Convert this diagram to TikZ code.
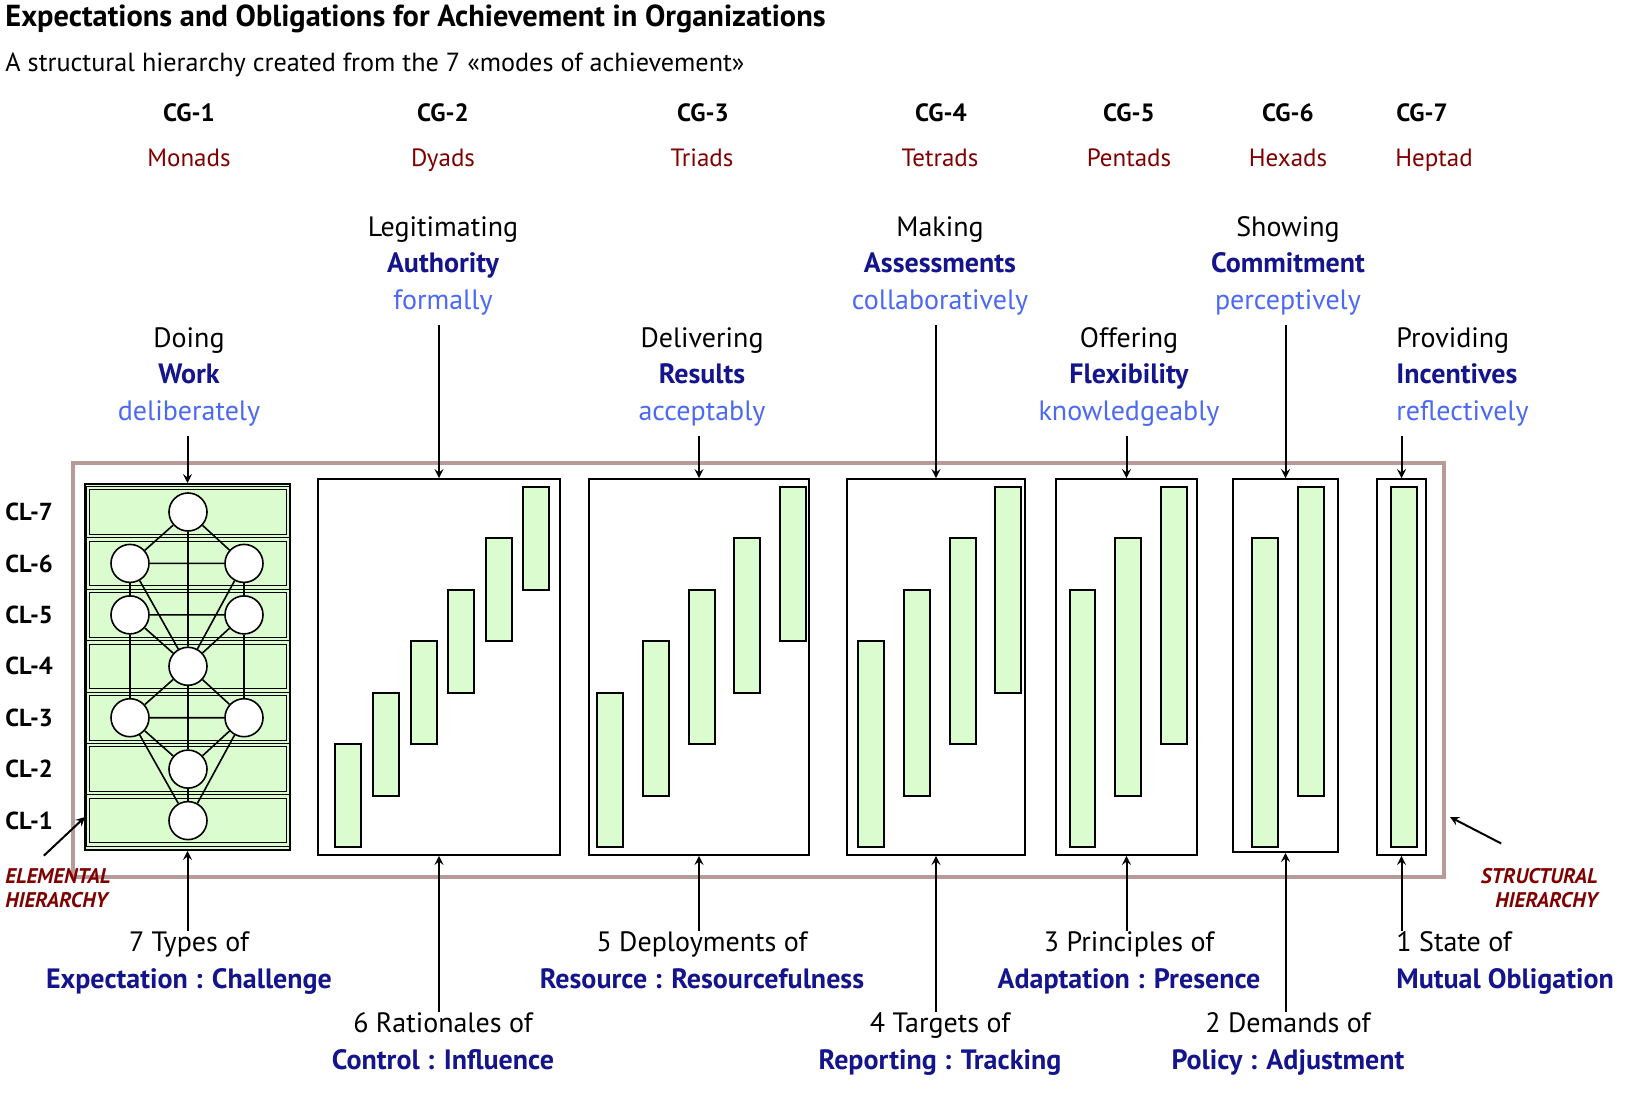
\documentclass[tikz,border=0pt]{standalone}
\usepackage{fontspec}
\setmainfont{PT Sans}
\definecolor{cgreen}{RGB}{218,252,206}
\definecolor{framebrown}{RGB}{184,154,152}
\definecolor{modered}{RGB}{128,0,0}
\definecolor{modenavy}{RGB}{20,20,140}
\definecolor{modesky}{RGB}{75,105,245}
\tikzset{
  grp/.style={draw,line width=0.8pt,inner sep=0pt},
  bar/.style={draw,line width=1pt,fill=cgreen},
  row/.style={draw,line width=0.5pt,double=cgreen,double distance=1.2pt,fill=cgreen},
  ball/.style={circle,draw,line width=0.8pt,fill=white,minimum size=19pt,inner sep=0pt},
  link/.style={line width=1pt,->},
  cglab/.style={anchor=base,font=\fontsize{12.5}{15}\selectfont\bfseries},
  kindlab/.style={anchor=base,text=modered,font=\fontsize{12.5}{15}\selectfont},
  cllab/.style={anchor=west,inner sep=0pt,font=\fontsize{12.3}{14}\selectfont\bfseries},
  modelab/.style={align=center,inner xsep=0pt,inner ysep=5pt,font=\fontsize{14}{18.2}\selectfont},
  outlab/.style={align=center,inner sep=0pt,font=\fontsize{14}{18.5}\selectfont},
  hierlab/.style={inner sep=0pt,text=modered,font=\fontsize{10.6}{12}\selectfont\bfseries\itshape},
}
\newcommand{\wk}[1]{{\bfseries\color{modenavy}#1}}
\newcommand{\hw}[1]{{\color{modesky}#1}}
\begin{document}
\begin{tikzpicture}[x=0.5pt,y=-0.5pt,>=stealth]
    \useasboundingbox (0,0) rectangle (1625,1117);
    % headings
    \node[anchor=base west,inner sep=0pt,font=\fontsize{15.2}{17}\selectfont\bfseries] (title) at (5,27)
        {Expectations and Obligations for Achievement in Organizations};
    \node[anchor=base west,inner sep=0pt,font=\fontsize{13.1}{16}\selectfont] (subtitle) at (5,72)
        {A structural hierarchy created from the 7 «modes of achievement»};
    \node[cglab] (cg1) at (189,122) {CG-1};
    \node[cglab] (cg2) at (443,122) {CG-2};
    \node[cglab] (cg3) at (703,122) {CG-3};
    \node[cglab] (cg4) at (941,122) {CG-4};
    \node[cglab] (cg5) at (1129,122) {CG-5};
    \node[cglab] (cg6) at (1288,122) {CG-6};
    \node[cglab] (cg7) at (1422,122) {CG-7};
    \node[kindlab] (k1) at (189,167) {Monads};
    \node[kindlab] (k2) at (443,167) {Dyads};
    \node[kindlab] (k3) at (702,167) {Triads};
    \node[kindlab] (k4) at (940,167) {Tetrads};
    \node[kindlab] (k5) at (1129,167) {Pentads};
    \node[kindlab] (k6) at (1288,167) {Hexads};
    \node[kindlab] (k7) at (1434,167) {Heptad};
    % the structural frame
    \draw[line width=2pt,framebrown] (73,463) rectangle (1444,877);
    % groups
    \node[grp,fill=cgreen,minimum width=102.5pt,minimum height=183pt] (g1) at (187.5,667) {};
    \node[grp,minimum width=121pt,minimum height=188pt] (g2) at (439,667) {};
    \node[grp,minimum width=110pt,minimum height=188pt] (g3) at (699,667) {};
    \node[grp,minimum width=89pt,minimum height=188pt] (g4) at (936,667) {};
    \node[grp,minimum width=70.5pt,minimum height=188pt] (g5) at (1126.5,667) {};
    \node[grp,minimum width=52.5pt,minimum height=186.5pt] (g6) at (1285.5,665.5) {};
    \node[grp,minimum width=24.5pt,minimum height=188pt] (g7) at (1401.5,667) {};
    % CG-1 levels
    \draw[row] (88,488) rectangle (288,536);
    \draw[row] (88,539.4) rectangle (288,587.4);
    \draw[row] (88,590.9) rectangle (288,638.9);
    \draw[row] (88,642.3) rectangle (288,690.3);
    \draw[row] (88,693.7) rectangle (288,741.7);
    \draw[row] (88,745.1) rectangle (288,793.1);
    \draw[row] (88,796.6) rectangle (288,844.6);
    \node[ball] (n1) at (188,512) {};
    \node[ball] (n2) at (130,563.4) {};
    \node[ball] (n3) at (244,563.4) {};
    \node[ball] (n4) at (130,614.9) {};
    \node[ball] (n5) at (244,614.9) {};
    \node[ball] (n6) at (188,666.3) {};
    \node[ball] (n7) at (130,717.7) {};
    \node[ball] (n8) at (244,717.7) {};
    \node[ball] (n9) at (188,769.1) {};
    \node[ball] (n10) at (188,820.6) {};
    \draw[line width=0.8pt] (n1) -- (n2) (n1) -- (n3) (n1) -- (n6)
        (n2) -- (n3) (n2) -- (n4) (n2) -- (n6) (n3) -- (n5) (n3) -- (n6)
        (n4) -- (n5) (n4) -- (n6) (n4) -- (n7) (n5) -- (n6) (n5) -- (n8)
        (n6) -- (n7) (n6) -- (n8) (n6) -- (n9)
        (n7) -- (n8) (n7) -- (n9) (n7) -- (n10) (n8) -- (n9) (n8) -- (n10)
        (n9) -- (n10);
    % CG-2 .. CG-7 spans
    \draw[bar] (335,744) rectangle (360.5,847);
    \draw[bar] (373,693) rectangle (398.5,795.6);
    \draw[bar] (411,641.3) rectangle (436.5,744);
    \draw[bar] (448,589.9) rectangle (473.5,693);
    \draw[bar] (486,538.4) rectangle (511.5,641.3);
    \draw[bar] (523,487) rectangle (548.5,589.9);
    \draw[bar] (597,693) rectangle (622.5,847);
    \draw[bar] (643,641.3) rectangle (668.5,795.6);
    \draw[bar] (689,589.9) rectangle (714.5,744);
    \draw[bar] (734,538.4) rectangle (759.5,693);
    \draw[bar] (780,487) rectangle (805.5,641.3);
    \draw[bar] (858,641.3) rectangle (883.5,847);
    \draw[bar] (904,589.9) rectangle (929.5,795.6);
    \draw[bar] (950,538.4) rectangle (975.5,744);
    \draw[bar] (995,487) rectangle (1020.5,693);
    \draw[bar] (1069.5,589.9) rectangle (1095,847);
    \draw[bar] (1115,538.4) rectangle (1140.5,795.6);
    \draw[bar] (1161,487) rectangle (1186.5,744);
    \draw[bar] (1252,538.4) rectangle (1277.5,847);
    \draw[bar] (1298,487) rectangle (1323.5,795.6);
    \draw[bar] (1391,487) rectangle (1416.5,847);
    % levels
    \node[cllab] (cl7) at (5,512) {CL-7};
    \node[cllab] (cl6) at (5,563.4) {CL-6};
    \node[cllab] (cl5) at (5,614.9) {CL-5};
    \node[cllab] (cl4) at (5,666.3) {CL-4};
    \node[cllab] (cl3) at (5,717.7) {CL-3};
    \node[cllab] (cl2) at (5,769.1) {CL-2};
    \node[cllab] (cl1) at (5,820.6) {CL-1};
    % modes of achievement
    \node[modelab,anchor=base] (m1) at (189,420) {Doing\\\wk{Work}\\\hw{deliberately}};
    \node[modelab,anchor=base] (m2) at (443,309) {Legitimating\\\wk{Authority}\\\hw{formally}};
    \node[modelab,anchor=base] (m3) at (702,420) {Delivering\\\wk{Results}\\\hw{acceptably}};
    \node[modelab,anchor=base] (m4) at (940,309) {Making\\\wk{Assessments}\\\hw{collaboratively}};
    \node[modelab,anchor=base] (m5) at (1129,420) {Offering\\\wk{Flexibility}\\\hw{knowledgeably}};
    \node[modelab,anchor=base] (m6) at (1288,309) {Showing\\\wk{Commitment}\\\hw{perceptively}};
    \node[modelab,anchor=base west,align=left] (m7) at (1396,420) {Providing\\\wk{Incentives}\\\hw{reflectively}};
    \draw[link] (g1.north |- m1.south) -- (g1.north);
    \draw[link] (g2.north |- m2.south) -- (g2.north);
    \draw[link] (g3.north |- m3.south) -- (g3.north);
    \draw[link] (g4.north |- m4.south) -- (g4.north);
    \draw[link] (g5.north |- m5.south) -- (g5.north);
    \draw[link] (g6.north |- m6.south) -- (g6.north);
    \draw[link] (g7.north |- m7.south) -- (g7.north);
    % what each group yields
    \node[outlab,anchor=base] (b1) at (189,988) {7 Types of\\\wk{Expectation : Challenge}};
    \node[outlab,anchor=base] (b2) at (443,1069) {6 Rationales of\\\wk{Control : Influence}};
    \node[outlab,anchor=base] (b3) at (702,988) {5 Deployments of\\\wk{Resource : Resourcefulness}};
    \node[outlab,anchor=base] (b4) at (940,1069) {4 Targets of\\\wk{Reporting : Tracking}};
    \node[outlab,anchor=base] (b5) at (1129,988) {3 Principles of\\\wk{Adaptation : Presence}};
    \node[outlab,anchor=base] (b6) at (1288,1069) {2 Demands of\\\wk{Policy : Adjustment}};
    \node[outlab,anchor=base west,align=left] (b7) at (1396,988) {1 State of\\\wk{Mutual Obligation}};
    \draw[link] (g1.south |- b1.north) -- (g1.south);
    \draw[link] (g2.south |- b2.north) -- (g2.south);
    \draw[link] (g3.south |- b3.north) -- (g3.south);
    \draw[link] (g4.south |- b4.north) -- (g4.south);
    \draw[link] (g5.south |- b5.north) -- (g5.south);
    \draw[link] (g6.south |- b6.north) -- (g6.south);
    \draw[link] (g7.south |- b7.north) -- (g7.south);
    % hierarchies
    \node[hierlab,anchor=base west,align=left] (eh) at (5,907) {ELEMENTAL\\HIERARCHY};
    \node[hierlab,anchor=base east,align=right] (sh) at (1598,907) {STRUCTURAL\\HIERARCHY};
    \coordinate (ein) at (85,817);
    \coordinate (sin) at (1450,817);
    \draw[link] ([xshift=-7pt,yshift=6pt]eh.north) -- (ein);
    \draw[link] ([xshift=-19pt,yshift=12pt]sh.north) -- (sin);
\end{tikzpicture}
\end{document}
